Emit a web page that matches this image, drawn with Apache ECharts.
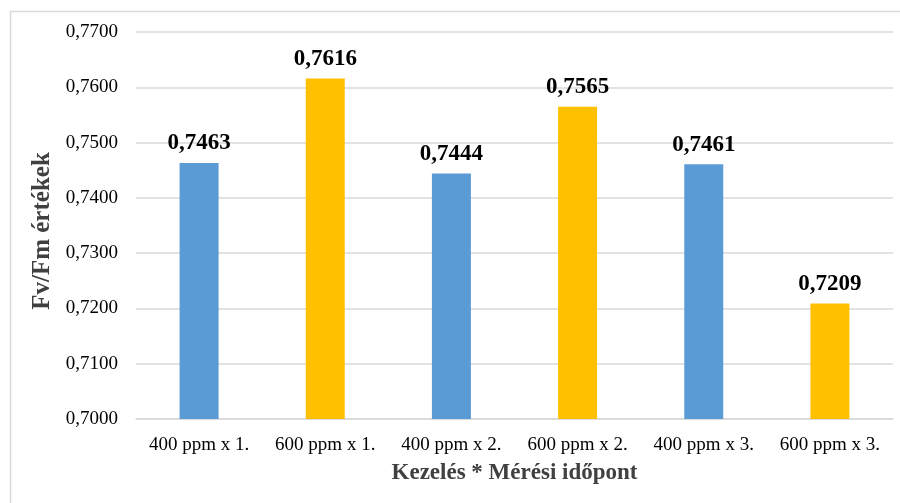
<!DOCTYPE html>
<html>
<head>
<meta charset="utf-8">
<script src="https://cdn.jsdelivr.net/npm/echarts@6/dist/echarts.min.js"></script>
<style>
  html, body { margin: 0; padding: 0; background: #fff; }
  #chart { width: 900px; height: 503px; }
</style>
</head>
<body>
<div id="chart"></div>
<script>
// Fv/Fm values per treatment and measurement time
const categories = ['400 ppm x 1.', '600 ppm x 1.', '400 ppm x 2.', '600 ppm x 2.', '400 ppm x 3.', '600 ppm x 3.'];
const values = [0.7463, 0.7616, 0.7444, 0.7565, 0.7461, 0.7209];
const barColors = ['#5B9BD5', '#FFC000', '#5B9BD5', '#FFC000', '#5B9BD5', '#FFC000'];
const yTitle = 'Fv/Fm értékek';
const xTitle = 'Kezelés * Mérési időpont';

const fmt = v => v.toFixed(4).replace('.', ',');
const serif = '"Liberation Serif", "Times New Roman", serif';

const chart = echarts.init(document.getElementById('chart'), null, { renderer: 'canvas' });
chart.setOption({
  backgroundColor: '#fff',
  animation: false,
  graphic: [{
    type: 'rect',
    shape: { x: 10.5, y: 11.5, width: 900, height: 500 },
    style: { fill: 'none', stroke: '#d9d9d9', lineWidth: 1.5 },
    silent: true
  }, {
    type: 'text',
    x: 43,
    y: 231,
    rotation: Math.PI / 2,
    style: {
      text: yTitle,
      align: 'center',
      verticalAlign: 'middle',
      fill: '#404040',
      font: 'bold 25px ' + serif
    },
    silent: true
  }],
  grid: { left: 136, right: 7, top: 32, bottom: 84 },
  xAxis: {
    type: 'category',
    data: categories,
    axisLine: { show: true, lineStyle: { color: '#d9d9d9', width: 1.5 } },
    axisTick: { show: false },
    axisLabel: { interval: 0, color: '#000', fontFamily: serif, fontSize: 19, margin: 17 },
    name: xTitle,
    nameLocation: 'middle',
    nameGap: 43,
    nameTextStyle: { color: '#404040', fontFamily: serif, fontSize: 23, fontWeight: 'bold' }
  },
  yAxis: {
    type: 'value',
    min: 0.70,
    max: 0.77,
    interval: 0.01,
    axisLine: { show: false },
    axisTick: { show: false },
    axisLabel: { color: '#000', fontFamily: serif, fontSize: 19, margin: 18, formatter: v => fmt(v) },
    splitLine: { lineStyle: { color: '#d9d9d9', width: 1.5 } }
  },
  series: [{
    type: 'bar',
    barWidth: 39,
    data: values.map((v, i) => ({ value: v, itemStyle: { color: barColors[i] } })),
    label: {
      show: true,
      position: 'top',
      distance: 8,
      color: '#000',
      fontFamily: serif,
      fontSize: 23,
      fontWeight: 'bold',
      formatter: p => fmt(p.value)
    }
  }]
});
</script>
</body>
</html>
